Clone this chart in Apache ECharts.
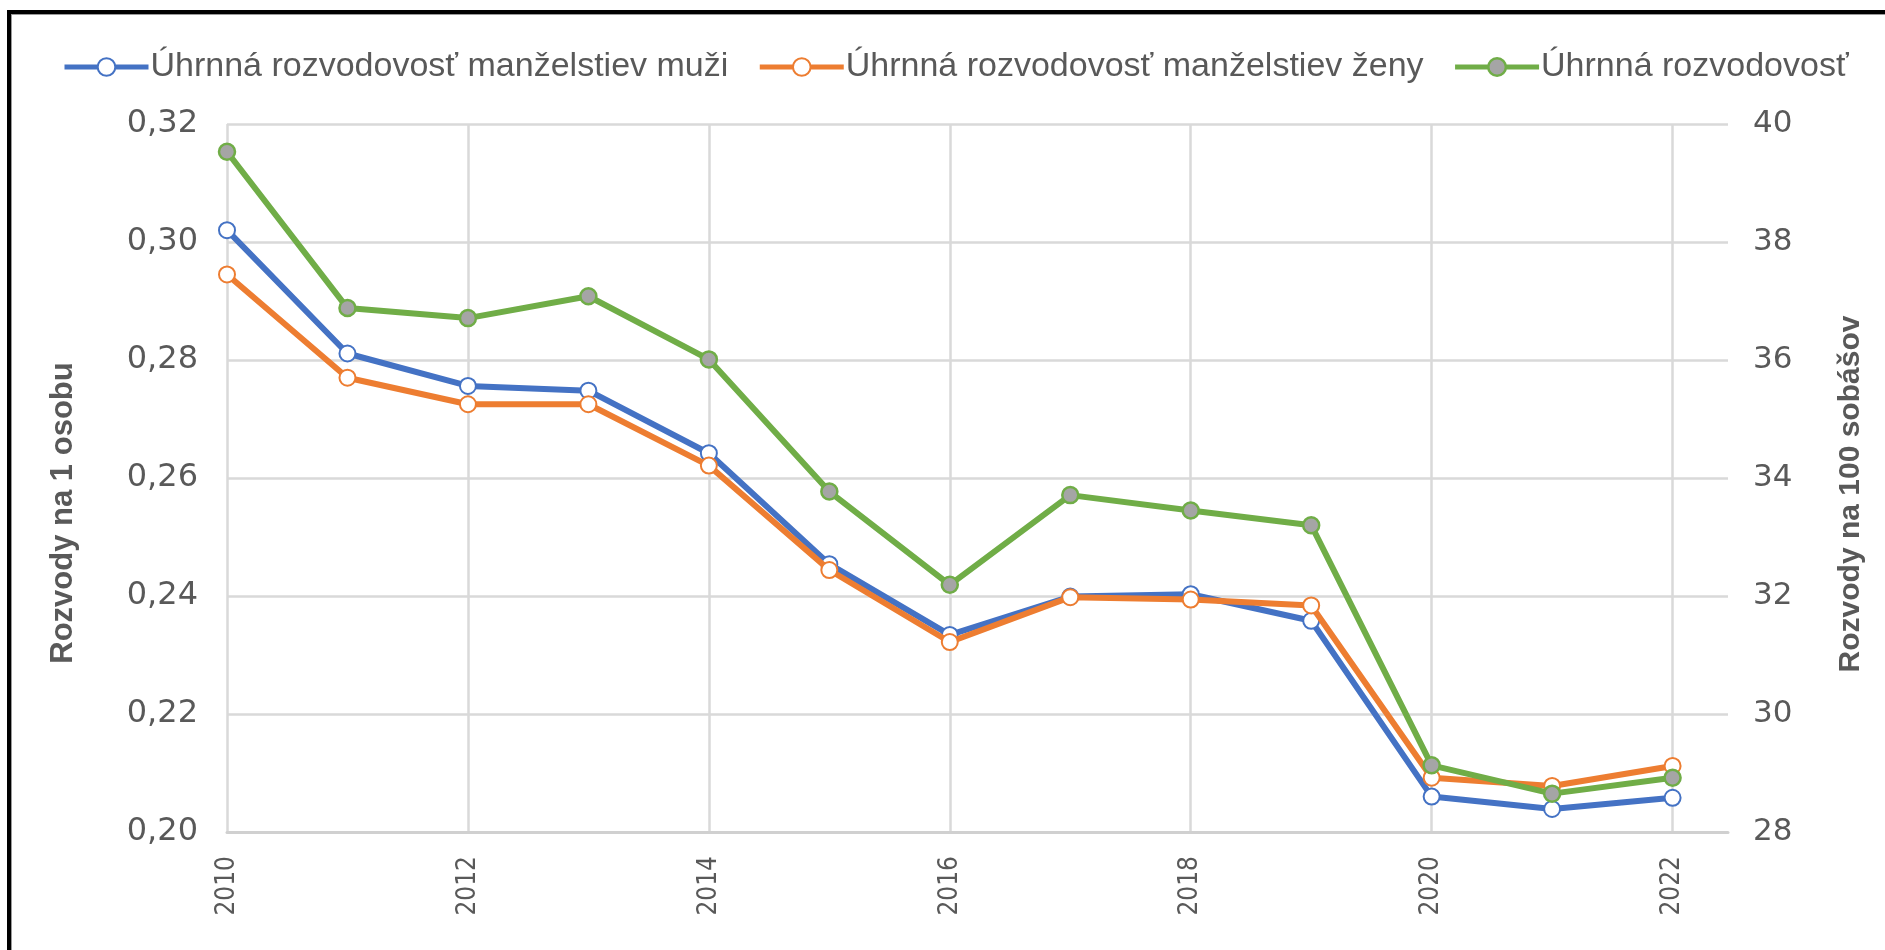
<!DOCTYPE html>
<html>
<head>
<meta charset="utf-8">
<script src="https://cdn.jsdelivr.net/npm/echarts@6/dist/echarts.min.js"></script>
<style>
    html, body { margin: 0; padding: 0; overflow: hidden; background: #fff; }
    .frame {
        position: absolute; left: 7px; top: 10px; width: 2000px; height: 2000px;
        border-top: 4px solid #000; border-left: 4px solid #000;
        box-shadow: inset 1px 1px 0 #9a9a9a;
    }
    #main { position: absolute; left: 0; top: 0; width: 1885px; height: 950px; }
</style>
</head>
<body>
<div class="frame"></div>
<div id="main"></div>
<script>
// roky
const years = [2010, 2011, 2012, 2013, 2014, 2015, 2016, 2017, 2018, 2019, 2020, 2021, 2022];
// Úhrnná rozvodovosť manželstiev muži (ľavá os)
const muzi = [0.3020, 0.2811, 0.2756, 0.2748, 0.2642, 0.2454, 0.2334, 0.2399, 0.2403, 0.2358, 0.2060, 0.2039, 0.2058];
// Úhrnná rozvodovosť manželstiev ženy (ľavá os)
const zeny = [0.2945, 0.2770, 0.2725, 0.2725, 0.2621, 0.2444, 0.2322, 0.2398, 0.2394, 0.2384, 0.2092, 0.2078, 0.2112];
// Úhrnná rozvodovosť (pravá os, na 100 sobášov)
const spolu = [39.53, 36.88, 36.71, 37.08, 36.01, 33.77, 32.19, 33.71, 33.45, 33.20, 29.13, 28.65, 28.92];

const seriesNames = [
    'Úhrnná rozvodovosť manželstiev muži',
    'Úhrnná rozvodovosť manželstiev ženy',
    'Úhrnná rozvodovosť'
];

const pairs = arr => years.map((y, i) => [y, arr[i]]);

const gray = '#595959';
const gridColor = '#D9D9D9';

const myChart = echarts.init(document.getElementById('main'));
const option = {
    animation: false,
    legend: {
        left: 57,
        top: 45,
        itemWidth: 84,
        itemHeight: 22,
        itemGap: 29,
        lineStyle: { width: 5 },
        itemStyle: { borderWidth: 2.5 },
        textStyle: {
            fontFamily: 'Liberation Sans, Arial, sans-serif',
            fontSize: 34,
            color: gray,
            padding: [0, 0, 0, -3]
        },
        data: seriesNames
    },
    grid: {
        left: 227,
        right: 157,
        top: 124,
        bottom: 118,
        containLabel: false
    },
    xAxis: {
        type: 'value',
        min: 2010,
        max: 2022.46,
        interval: 2,
        axisLine: { show: true, lineStyle: { color: '#D0D0D0', width: 3 } },
        axisTick: { show: false },
        axisLabel: {
            rotate: 90,
            margin: 24,
            showMaxLabel: false,
            fontFamily: 'DejaVu Sans Condensed, DejaVu Sans, sans-serif',
            fontSize: 26,
            color: gray,
            formatter: v => (v % 1 === 0 ? String(v) : '')
        },
        splitLine: {
            show: true,
            showMaxLine: false,
            lineStyle: { color: gridColor, width: 2.5 }
        }
    },
    yAxis: [
        {
            type: 'value',
            min: 0.20,
            max: 0.32,
            interval: 0.02,
            name: 'Rozvody na 1 osobu',
            nameLocation: 'middle',
            nameRotate: 90,
            nameGap: 148,
            nameTextStyle: {
                fontFamily: 'Liberation Sans, Arial, sans-serif',
                fontWeight: 'bold',
                fontSize: 31,
                color: gray,
                padding: [0, 70, 0, 0]
            },
            axisLine: { show: false },
            axisTick: { show: false },
            axisLabel: {
                margin: 29,
                fontFamily: 'DejaVu Sans, sans-serif',
                fontSize: 32,
                color: gray,
                formatter: v => v.toFixed(2).replace('.', ',')
            },
            splitLine: { lineStyle: { color: gridColor, width: 2.5 } }
        },
        {
            type: 'value',
            min: 28,
            max: 40,
            interval: 2,
            name: 'Rozvody na 100 sobášov',
            nameLocation: 'middle',
            nameRotate: 90,
            nameGap: 108,
            nameTextStyle: {
                fontFamily: 'Liberation Sans, Arial, sans-serif',
                fontWeight: 'bold',
                fontSize: 30,
                color: gray,
                padding: [0, 32, 0, 0]
            },
            axisLine: { show: false },
            axisTick: { show: false },
            axisLabel: {
                margin: 25,
                fontFamily: 'DejaVu Sans, sans-serif',
                fontSize: 31,
                color: gray
            },
            splitLine: { show: false }
        }
    ],
    series: [
        {
            name: seriesNames[0],
            type: 'line',
            yAxisIndex: 0,
            symbol: 'emptyCircle',
            symbolSize: 16,
            data: pairs(muzi),
            color: '#4472C4',
            lineStyle: { width: 6, color: '#4472C4' },
            itemStyle: { borderWidth: 2.5 },
            z: 3
        },
        {
            name: seriesNames[1],
            type: 'line',
            yAxisIndex: 0,
            symbol: 'emptyCircle',
            symbolSize: 16,
            data: pairs(zeny),
            color: '#ED7D31',
            lineStyle: { width: 6, color: '#ED7D31' },
            itemStyle: { borderWidth: 2.5 },
            z: 4
        },
        {
            name: seriesNames[2],
            type: 'line',
            yAxisIndex: 1,
            symbol: 'circle',
            symbolSize: 16,
            data: pairs(spolu),
            color: '#70AD47',
            lineStyle: { width: 6, color: '#70AD47' },
            itemStyle: { color: '#A5A5A5', borderColor: '#70AD47', borderWidth: 2.5 },
            z: 5
        }
    ]
};
option && myChart.setOption(option);
</script>
</body>
</html>
